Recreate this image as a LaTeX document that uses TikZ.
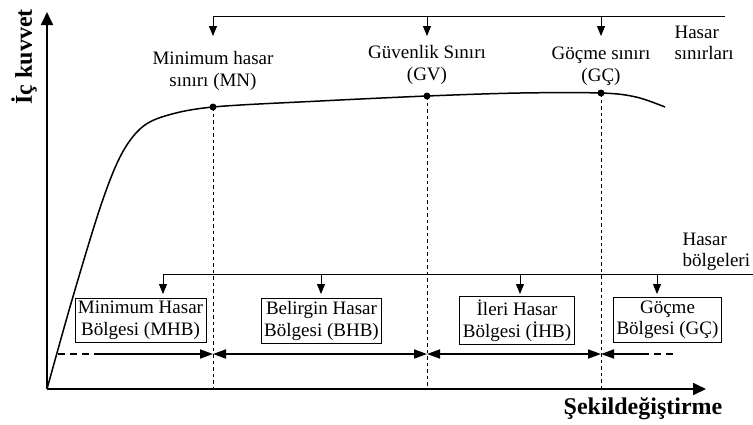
\documentclass[tikz,border=0pt]{standalone}
\usepackage{fontspec}
\setmainfont{Liberation Serif}
\usetikzlibrary{arrows.meta}

\begin{document}
\begin{tikzpicture}[x=1pt, y=-1pt,
  every node/.style={font=\fontsize{19}{21.5}\selectfont, align=center},
  zone/.style={draw, line width=0.9pt, inner sep=3pt},
  axis/.style={line width=1.8pt, -{Triangle[width=12pt,length=13pt]}},
  guide/.style={line width=0.8pt, dash pattern=on 3.5pt off 3pt},
  open/.style={line width=1.2pt, dash pattern=on 7pt off 5pt},
  drop/.style={line width=0.9pt, -{Triangle[width=8pt,length=10pt]}},
  head/.tip={Triangle[width=9pt,length=13pt]},
  span/.style={line width=1.8pt},
  dot/.style={circle, fill, inner sep=0pt, minimum size=7pt}]
                \useasboundingbox (0,0) rectangle (753,424);
                % axes
                \coordinate (O) at (47,389);
                \coordinate (ytip) at (47,12);
                \coordinate (xtip) at (706,389);
                \draw[axis] (O) -- (ytip);
                \draw[axis] (O) -- (xtip);
                \node[font=\fontsize{24}{28}\selectfont\bfseries, rotate=90] (ylab) at (24,57) {İç kuvvet};
                \node[font=\fontsize{24}{28}\selectfont\bfseries] (xlab) at (643,409) {Şekildeğiştirme};
                % curve and limit points
                \coordinate (MN) at (213,107);
                \coordinate (GV) at (427,96);
                \coordinate (GC) at (601,93);
                \draw[line width=1.5pt] plot[smooth, tension=0.55] coordinates {(O) (72,300) (100,208) (120,157) (140,129) (165,116) (MN) (320,101) (GV) (520,93) (GC) (636,97) (665,107)};
                \foreach \p in {MN, GV, GC} {
                  \node[dot] at (\p) {};
                  \draw[guide] (\p) -- (\p |- O);
                }
                % hasar sinirlari
                \coordinate (t0) at (213,16);
                \coordinate (t1) at (725,16);
                \draw[line width=0.9pt] (t0) -- (t1);
                \foreach \p in {MN, GV, GC} \draw[drop] (\p |- t0) -- ++(0,20);
                \node (mnlab) at (213,71) {Minimum hasar\\sınırı (MN)};
                \node (gvlab) at (427,65) {Güvenlik Sınırı\\(GV)};
                \node (gclab) at (601,66) {Göçme sınırı\\(GÇ)};
                \node[anchor=west, align=left] (sinir) at (671,43) {Hasar\\sınırları};
                % hasar bolgeleri
                \coordinate (b0) at (163,274);
                \coordinate (b1) at (753,274);
                \draw[line width=0.9pt] (b0) -- (b1);
                \node[zone] (mhb) at (140.5,320.5) {Minimum Hasar\\Bölgesi (MHB)};
                \node[zone] (bhb) at (321.5,321) {Belirgin Hasar\\Bölgesi (BHB)};
                \node[zone] (ihb) at (517,320.5) {İleri Hasar\\Bölgesi (İHB)};
                \node[zone] (gcb) at (667.5,320) {Göçme\\Bölgesi (GÇ)};
                \foreach \x in {163, 321, 520, 657} \draw[drop] (\x,274) -- (\x,294);
                \node[anchor=west, align=left] (bolge) at (679,252) {Hasar\\bölgeleri};
                % zone spans
                \coordinate (s0) at (58,354);
                \coordinate (s1) at (97,354);
                \coordinate (s2) at (642,354);
                \coordinate (s3) at (677,354);
                \draw[open] (s0) -- (s1);
                \draw[span, -head] (s1) -- (MN |- s1);
                \draw[span, head-head] (MN |- s1) -- (GV |- s1);
                \draw[span, head-head] (GV |- s1) -- (GC |- s1);
                \draw[span, head-] (GC |- s1) -- (s2);
                \draw[open] (s2) -- (s3);
\end{tikzpicture}
\end{document}
